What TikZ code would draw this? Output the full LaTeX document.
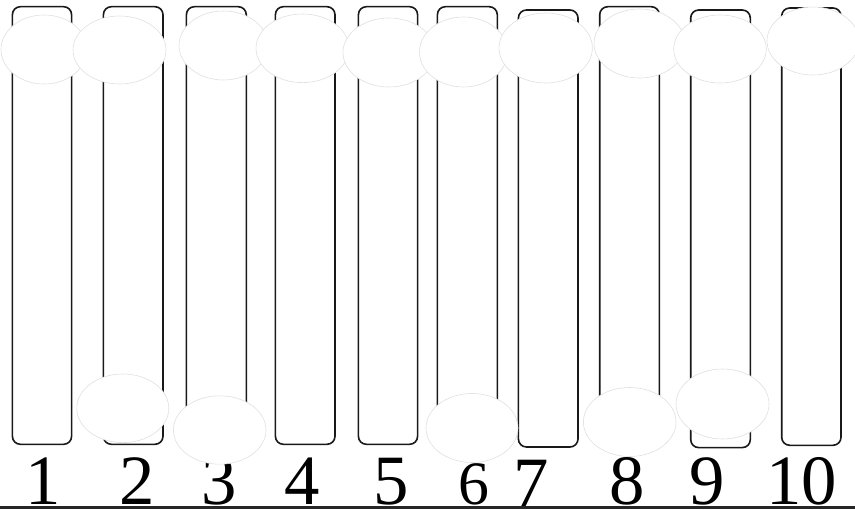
\documentclass[tikz,border=0pt]{standalone}
\usepackage{fontspec}
\setmainfont{Liberation Serif}
\begin{document}
\begin{tikzpicture}[x=1bp,y=-1bp,
  bar/.style={draw=black!90,line width=1.6bp,rounded corners=8bp,fill=white},
  blob/.style={draw=black!12,line width=0.6bp,fill=white},
  num/.style={anchor=base,inner sep=0pt,font=\fontsize{71}{71}\selectfont}]
\useasboundingbox (0,0) rectangle (855,510);
% bars
\draw[bar] (12.4,6.7) rectangle (71.6,444.3);
\draw[bar] (103.4,6.7) rectangle (163,444.3);
\draw[bar] (186.4,6.7) rectangle (246.3,444.3);
\draw[bar] (275.4,6.7) rectangle (335,444.3);
\draw[bar] (358.4,6.7) rectangle (417.6,444.3);
\draw[bar] (437.4,6.7) rectangle (497.3,444.3);
\draw[bar] (518.4,10) rectangle (578,447);
\draw[bar] (599.7,6.7) rectangle (659.3,444.3);
\draw[bar] (690.7,10) rectangle (750.3,447.6);
\draw[bar] (781.7,8) rectangle (841,445.3);
% digits
\node[num] (n1) at (43,504.8) {1};
\node[num] (n2) at (137,504.8) {2};
\node[num] (n3) at (218.7,504.8) {3};
\node[num] (n4) at (301.7,504.8) {4};
\node[num] (n5) at (391,504.8) {5};
\node[num,font=\fontsize{62}{62}\selectfont] (n6) at (473.5,504.8) {6};
\node[num] (n7) at (531,506.6) {7};
\node[num] (n8) at (626.7,504.8) {8};
\node[num] (n9) at (707.5,504.8) {9};
\node[num] (n10) at (801.7,504.8) {10};
% base line
\coordinate (la) at (0,507.5);
\coordinate (lb) at (855,507.5);
\draw[line width=2.2bp,black!85] (la) -- (lb);
% top ellipses
\draw[blob] (44,49.5) ellipse [x radius=43bp,y radius=34.5bp];
\draw[blob] (119.5,50) ellipse [x radius=46.5bp,y radius=34bp];
\draw[blob] (223.5,45.5) ellipse [x radius=44.5bp,y radius=34.5bp];
\draw[blob] (302.5,48.3) ellipse [x radius=46.5bp,y radius=34.3bp];
\draw[blob] (389,52.5) ellipse [x radius=46bp,y radius=34.5bp];
\draw[blob] (463.5,52) ellipse [x radius=44bp,y radius=35bp];
\draw[blob] (545.7,48) ellipse [x radius=46.7bp,y radius=35bp];
\draw[blob] (639.5,43.5) ellipse [x radius=45.5bp,y radius=34.5bp];
\draw[blob] (720,49) ellipse [x radius=46.3bp,y radius=34bp];
\draw[blob] (813,41) ellipse [x radius=46bp,y radius=34bp];
% bottom ellipses
\draw[blob] (122.8,408.3) ellipse [x radius=46bp,y radius=34.3bp];
\draw[blob] (219.7,430) ellipse [x radius=46.3bp,y radius=34.2bp];
\draw[blob] (472,428) ellipse [x radius=46bp,y radius=34.5bp];
\draw[blob] (629.7,422) ellipse [x radius=46.3bp,y radius=34.5bp];
\draw[blob] (722.5,404) ellipse [x radius=46.5bp,y radius=35bp];
\end{tikzpicture}
\end{document}
